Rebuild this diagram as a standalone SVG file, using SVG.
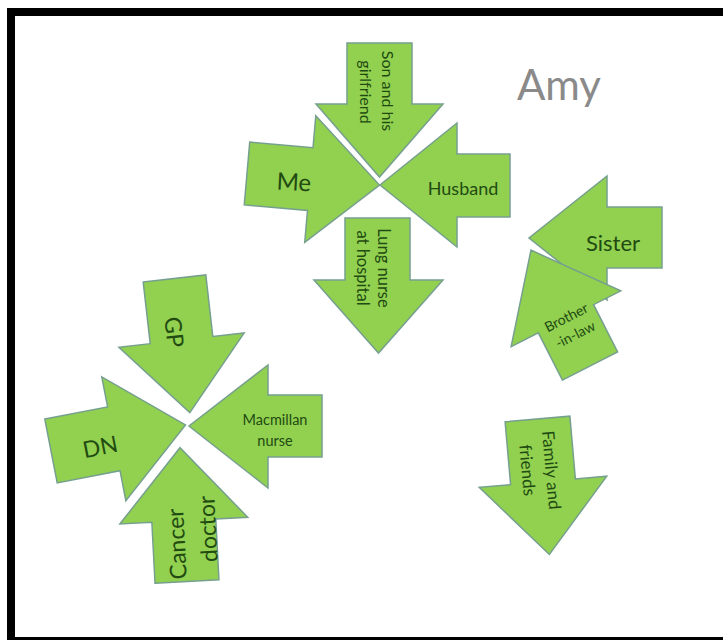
<svg xmlns="http://www.w3.org/2000/svg" width="723" height="640" viewBox="0 0 723 640">
<style>
.arr{fill:#92D050;stroke:#76a08e;stroke-width:1.5;stroke-linejoin:miter}
.t{font-family:Lato,"Liberation Sans",sans-serif;fill:#214b10;text-anchor:middle;dominant-baseline:central}
</style>
<rect x="0" y="0" width="723" height="640" fill="#ffffff"/>
<rect x="11" y="12" width="720" height="629" fill="#ffffff" stroke="#000000" stroke-width="8"/>
<text x="517" y="100" font-family="Lato,'Liberation Sans',sans-serif" font-size="42" fill="#8a8a8a">Amy</text>
<g id="connectors"/>
<g id="son">
<polygon class="arr" points="347,43 412,43 412,104 443,104 379.5,177 316,104 347,104"/>
<text class="t" font-size="16" transform="translate(388,91) rotate(90)">Son and his</text>
<text class="t" font-size="16" transform="translate(366,92) rotate(90)">girlfriend</text>
</g>
<g id="me">
<polygon class="arr" transform="translate(247,173.5) rotate(5)" points="0,-31.5 63.5,-31.5 63.5,-63.5 133,0 63.5,63.5 63.5,31.5 0,31.5"/>
<text class="t" font-size="24" transform="translate(294,181) rotate(3)">Me</text>
</g>
<g id="husband">
<polygon class="arr" points="510,154 510,217 457,217 457,247 380,185 457,123 457,154"/>
<text class="t" font-size="18" x="463" y="188">Husband</text>
</g>
<g id="lung-nurse">
<polygon class="arr" points="345,218 410,218 410,280 443,280 378.5,353 314,280 345,280"/>
<text class="t" font-size="16.5" transform="translate(384,268) rotate(90)">Lung nurse</text>
<text class="t" font-size="16.5" transform="translate(363,268) rotate(90)">at hospital</text>
</g>
<g id="sister">
<polygon class="arr" points="662,207 662,268 607,268 607,300 529,238 607,176 607,207"/>
<text class="t" font-size="22" x="613" y="242">Sister</text>
</g>
<g id="brother-in-law">
<polygon class="arr" transform="translate(590,366) rotate(-27)" points="-31,0 31,0 31,-53 61.5,-53 0,-130 -61.5,-53 -31,-53"/>
<text class="t" font-size="14" transform="translate(566,317) rotate(-27)">Brother</text>
<text class="t" font-size="14" transform="translate(575,334) rotate(-27)">-in-law</text>
</g>
<g id="gp">
<polygon class="arr" transform="translate(174.5,278.5) rotate(-6.5)" points="-31.5,0 31.5,0 31.5,62 63,62 0,135 -63,62 -31.5,62"/>
<text class="t" font-size="23" transform="translate(175,332) rotate(83.5)">GP</text>
</g>
<g id="dn">
<polygon class="arr" transform="translate(51,451) rotate(-11)" points="0,-32.5 64,-32.5 64,-63 137,0 64,63 64,32.5 0,32.5"/>
<text class="t" font-size="23" transform="translate(100,446) rotate(-11)">DN</text>
</g>
<g id="macmillan-nurse">
<polygon class="arr" points="322,395 322,457 268,457 268,488 189,426 268,365 268,395"/>
<text class="t" font-size="14.5" x="275" y="419">Macmillan</text>
<text class="t" font-size="14.5" x="275" y="440">nurse</text>
</g>
<g id="cancer-doctor">
<polygon class="arr" transform="translate(187,581.5) rotate(-3)" points="-32,0 32,0 32,-61 64,-61 0,-134 -64,-61 -32,-61"/>
<text class="t" font-size="23" transform="translate(176,544) rotate(-93)">Cancer</text>
<text class="t" font-size="23" transform="translate(207,529) rotate(-93)">doctor</text>
</g>
<g id="family-and-friends">
<polygon class="arr" transform="translate(537.5,419) rotate(-5)" points="-32.5,0 32.5,0 32.5,63 64,63 0,136 -64,63 -32.5,63"/>
<text class="t" font-size="17" transform="translate(552,470) rotate(85)">Family and</text>
<text class="t" font-size="17" transform="translate(528,470) rotate(85)">friends</text>
</g>
</svg>
